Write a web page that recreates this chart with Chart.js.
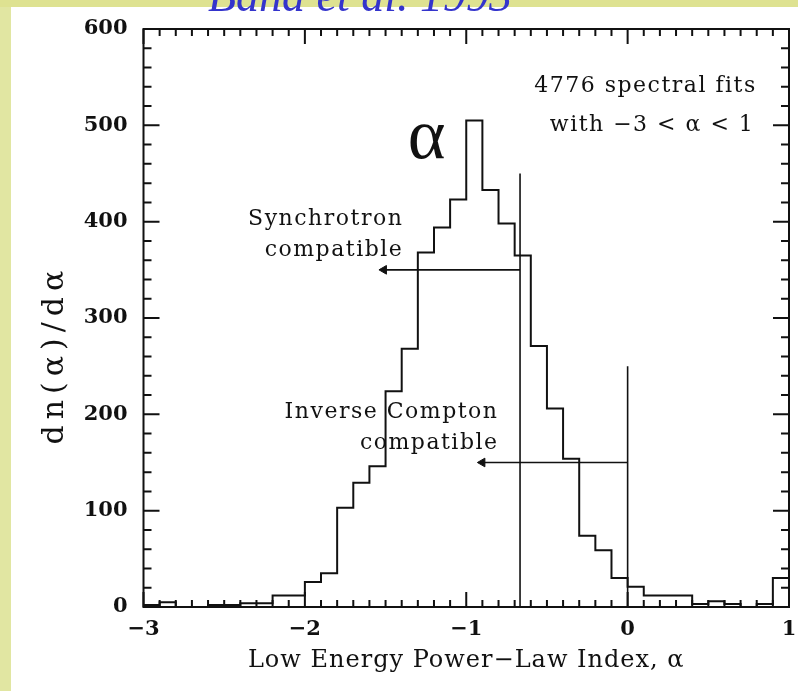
<!DOCTYPE html>
<html>
<head>
<meta charset="utf-8">
<script src="https://cdn.jsdelivr.net/npm/chart.js@4.4.1/dist/chart.umd.min.js"></script>
<style>
  html, body { margin: 0; padding: 0; background: #fff; }
</style>
</head>
<body>
<canvas id="grafico" width="798" height="691"></canvas>
<script>
// limite izquierdo de cada bin (ancho 0.1)
var binStart = [-3.0, -2.9, -2.8, -2.7, -2.6, -2.5, -2.4, -2.3, -2.2, -2.1,
                -2.0, -1.9, -1.8, -1.7, -1.6, -1.5, -1.4, -1.3, -1.2, -1.1,
                -1.0, -0.9, -0.8, -0.7, -0.6, -0.5, -0.4, -0.3, -0.2, -0.1,
                 0.0,  0.1,  0.2,  0.3,  0.4,  0.5,  0.6,  0.7,  0.8,  0.9];
var binValue = [2, 5, 0, 0, 2, 2, 4, 4, 12, 12,
                26, 35, 103, 129, 146, 224, 268, 368, 394, 423,
                505, 433, 398, 365, 271, 206, 154, 74, 59, 30,
                21, 12, 12, 12, 3, 6, 3, 0, 3, 30];
var lastEdge = 1.0;

// lineas de corte y flechas
var syncCut = [-2 / 3, 0, 450];        // x, y desde, y hasta
var syncArrow = [-2 / 3, -1.51, 350];  // x desde, x hasta, y
var icCut = [0, 0, 250];
var icArrow = [0, -0.90, 150];

var xTickLabels = [-3, -2, -1, 0, 1];
var yTickLabels = [0, 100, 200, 300, 400, 500, 600];

var histo = binStart.map(function (x, i) { return { x: x, y: binValue[i] }; });
histo.push({ x: lastEdge, y: binValue[binValue.length - 1] });

function menos(v) {
    return v < 0 ? '\u2212' + Math.abs(v) : String(v);
}

var negro = '#111';
var serif = '"DejaVu Serif", serif';

var datos = {
    datasets: [{
        data: histo,
        stepped: 'before',
        borderColor: negro,
        borderWidth: 2,
        pointRadius: 0,
        fill: false
    }, {
        data: [{ x: syncCut[0], y: syncCut[1] }, { x: syncCut[0], y: syncCut[2] }],
        borderColor: negro,
        borderWidth: 1.6,
        pointRadius: 0
    }, {
        data: [{ x: syncArrow[0], y: syncArrow[2] }, { x: syncArrow[1], y: syncArrow[2] }],
        borderColor: negro,
        borderWidth: 1.6,
        pointRadius: [0, 5],
        pointStyle: 'triangle',
        pointRotation: -90,
        pointBackgroundColor: negro,
        pointBorderColor: negro,
        pointBorderWidth: 1
    }, {
        data: [{ x: icCut[0], y: icCut[1] }, { x: icCut[0], y: icCut[2] }],
        borderColor: negro,
        borderWidth: 1.6,
        pointRadius: 0
    }, {
        data: [{ x: icArrow[0], y: icArrow[2] }, { x: icArrow[1], y: icArrow[2] }],
        borderColor: negro,
        borderWidth: 1.6,
        pointRadius: [0, 5],
        pointStyle: 'triangle',
        pointRotation: -90,
        pointBackgroundColor: negro,
        pointBorderColor: negro,
        pointBorderWidth: 1
    }]
};

// fondo, titulo, marco con marcas hacia dentro, titulos de ejes y notas
var marco = {
    id: 'marco',
    beforeDraw: function (chart) {
        var c = chart.ctx;
        c.save();
        c.fillStyle = '#fff';
        c.fillRect(0, 0, chart.width, chart.height);
        c.fillStyle = '#dee291';
        c.fillRect(0, 0, chart.width, 7);
        c.fillStyle = '#e1e6a2';
        c.fillRect(0, 7, 11, chart.height - 7);
        c.font = 'italic 46px "Liberation Serif", serif';
        c.fillStyle = '#3434cc';
        c.textBaseline = 'alphabetic';
        c.textAlign = 'left';
        c.fillText('Band et al. 1993', 208, 11);
        c.restore();
    },
    afterDatasetsDraw: function (chart) {
        var c = chart.ctx;
        var a = chart.chartArea;
        var sx = chart.scales.x, sy = chart.scales.y;
        c.save();
        c.strokeStyle = negro;
        c.lineWidth = 2;
        c.strokeRect(a.left, a.top, a.right - a.left, a.bottom - a.top);
        c.beginPath();
        for (var i = 0; i <= 40; i++) {
            var px = sx.getPixelForValue(-3 + i / 10);
            var len = (i % 10 === 0) ? 15 : 7;
            c.moveTo(px, a.bottom); c.lineTo(px, a.bottom - len);
            c.moveTo(px, a.top); c.lineTo(px, a.top + len);
        }
        for (var v = 0; v <= 600; v += 20) {
            var py = sy.getPixelForValue(v);
            var l2 = (v % 100 === 0) ? 16 : 8;
            c.moveTo(a.left, py); c.lineTo(a.left + l2, py);
            c.moveTo(a.right, py); c.lineTo(a.right - l2, py);
        }
        c.stroke();

        c.fillStyle = negro;
        c.textBaseline = 'middle';

        // titulos de los ejes
        c.textAlign = 'center';
        c.font = '24px ' + serif;
        c.letterSpacing = '1px';
        c.fillText('Low Energy Power\u2212Law Index, \u03b1', (a.left + a.right) / 2, 661);
        c.save();
        c.translate(55, sy.getPixelForValue(262));
        c.rotate(-Math.PI / 2);
        c.font = '30px ' + serif;
        c.letterSpacing = '6px';
        c.fillText('dn(\u03b1)/d\u03b1', 0, 0);
        c.restore();

        // notas
        c.font = '22px ' + serif;
        c.letterSpacing = '1.5px';
        c.textAlign = 'right';
        c.fillText('4776 spectral fits', sx.getPixelForValue(0.80), sy.getPixelForValue(541));
        c.fillText('with \u22123 < \u03b1 < 1', sx.getPixelForValue(0.785), sy.getPixelForValue(500));
        c.fillText('Synchrotron', sx.getPixelForValue(-1.39), sy.getPixelForValue(402));
        c.fillText('compatible', sx.getPixelForValue(-1.39), sy.getPixelForValue(370));
        c.fillText('Inverse Compton', sx.getPixelForValue(-0.80), sy.getPixelForValue(202));
        c.fillText('compatible', sx.getPixelForValue(-0.80), sy.getPixelForValue(170));
        c.letterSpacing = '0px';
        c.textAlign = 'center';
        c.textBaseline = 'alphabetic';
        c.font = '72px "Liberation Serif", serif';
        c.fillText('\u03b1', sx.getPixelForValue(-1.245), sy.getPixelForValue(466));
        c.restore();
    }
};

var opciones = {
    responsive: false,
    animation: false,
    devicePixelRatio: 1,
    layout: { padding: { left: 11, top: 29, right: 9, bottom: 0 } },
    plugins: {
        legend: { display: false },
        tooltip: { enabled: false },
        title: { display: false }
    },
    scales: {
        x: {
            type: 'linear',
            min: -3,
            max: 1,
            afterBuildTicks: function (s) {
                s.ticks = xTickLabels.map(function (v) { return { value: v }; });
            },
            ticks: {
                color: negro,
                padding: 10,
                font: { family: serif, size: 21, weight: 'bold' },
                callback: function (v) { return menos(v); }
            },
            grid: { display: false, drawTicks: false },
            border: { display: false },
            afterFit: function (s) {
                s.height = 84;
                s.paddingLeft = 0;
                s.paddingRight = 0;
            }
        },
        y: {
            min: 0,
            max: 600,
            afterBuildTicks: function (s) {
                s.ticks = yTickLabels.map(function (v) { return { value: v }; });
            },
            ticks: {
                color: negro,
                padding: 16,
                font: { family: serif, size: 21, weight: 'bold' }
            },
            grid: { display: false, drawTicks: false },
            border: { display: false },
            afterFit: function (s) {
                s.width = 132.5;
                s.paddingTop = 0;
                s.paddingBottom = 0;
            }
        }
    }
};

var ctx = document.getElementById('grafico');
var grafico = new Chart(ctx, {
    type: 'line',
    data: datos,
    options: opciones,
    plugins: [marco]
});
</script>
</body>
</html>
